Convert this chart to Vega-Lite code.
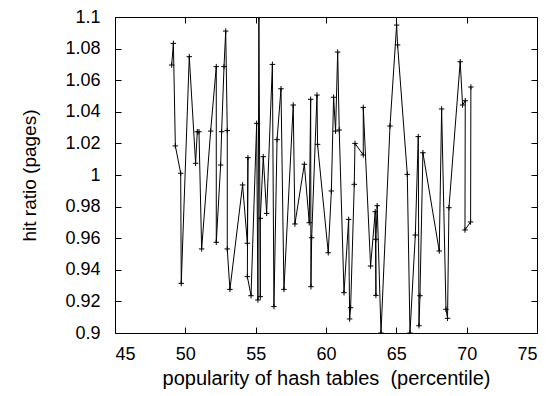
{
  "$schema": "https://vega.github.io/schema/vega-lite/v6.json",
  "width": 422,
  "height": 316,
  "autosize": {"type": "none"},
  "padding": {"left": 115, "top": 17, "right": 16, "bottom": 63},
  "background": "white",
  "config": {
    "font": "Liberation Sans",
    "view": {"stroke": "black", "strokeWidth": 1},
    "axis": {
      "grid": false,
      "domain": false,
      "tickColor": "black",
      "tickSize": -6,
      "labelFont": "Liberation Sans",
      "labelFontSize": 18,
      "labelColor": "black",
      "titleFont": "Liberation Sans",
      "titleFontSize": 19,
      "titleFontWeight": "normal",
      "titleColor": "black"
    }
  },
  "data": {"values": [
    {"i":1,"x":49.03,"y":1.0696},{"i":2,"x":49.15,"y":1.0833},{"i":3,"x":49.29,"y":1.0184},{"i":4,"x":49.67,"y":1.0011},{"i":5,"x":49.71,"y":0.9314},
    {"i":6,"x":50.28,"y":1.0749},{"i":7,"x":50.73,"y":1.0074},{"i":8,"x":50.85,"y":1.0274},{"i":9,"x":50.97,"y":1.0274},{"i":10,"x":51.16,"y":0.9532},
    {"i":11,"x":51.8,"y":1.0278},{"i":12,"x":52.2,"y":1.0686},{"i":13,"x":52.2,"y":0.9574},{"i":14,"x":52.51,"y":1.0063},{"i":15,"x":52.58,"y":1.0274},
    {"i":16,"x":52.75,"y":1.0686},{"i":17,"x":52.87,"y":1.0911},{"i":18,"x":52.98,"y":1.0281},{"i":19,"x":52.98,"y":0.9532},{"i":20,"x":53.17,"y":0.9276},
    {"i":21,"x":54.07,"y":0.9937},{"i":22,"x":54.41,"y":0.9568},{"i":23,"x":54.45,"y":1.011},{"i":24,"x":54.41,"y":0.9357},{"i":25,"x":54.67,"y":0.9236},
    {"i":26,"x":55.07,"y":1.0327},{"i":27,"x":55.16,"y":0.9209},{"i":28,"x":55.23,"y":1.1},{"i":29,"x":55.33,"y":0.923},{"i":30,"x":55.33,"y":0.9726},
    {"i":31,"x":55.54,"y":1.0116},{"i":32,"x":55.78,"y":0.9757},{"i":33,"x":56.19,"y":1.07},{"i":34,"x":56.3,"y":0.9167},{"i":35,"x":56.52,"y":1.0224},
    {"i":36,"x":56.8,"y":1.0546},{"i":37,"x":57.01,"y":0.9276},{"i":38,"x":57.67,"y":1.0443},{"i":39,"x":57.79,"y":0.969},{"i":40,"x":58.46,"y":1.0068},
    {"i":41,"x":58.81,"y":0.9698},{"i":42,"x":58.91,"y":1.0479},{"i":43,"x":58.93,"y":0.9293},{"i":44,"x":58.98,"y":0.9603},{"i":45,"x":59.36,"y":1.0506},
    {"i":46,"x":59.4,"y":1.0194},{"i":47,"x":60.16,"y":0.9508},{"i":48,"x":60.38,"y":0.9899},{"i":49,"x":60.54,"y":1.0492},{"i":50,"x":60.68,"y":1.0278},
    {"i":51,"x":60.83,"y":1.0778},{"i":52,"x":60.94,"y":1.0285},{"i":53,"x":61.28,"y":0.9255},{"i":54,"x":61.61,"y":0.9719},{"i":55,"x":61.68,"y":0.9089},
    {"i":56,"x":61.75,"y":0.916},{"i":57,"x":62.01,"y":0.9941},{"i":58,"x":62.06,"y":1.02},{"i":59,"x":62.65,"y":1.0127},{"i":60,"x":62.65,"y":1.0428},
    {"i":61,"x":63.17,"y":0.9424},{"i":62,"x":63.5,"y":0.9768},{"i":63,"x":63.55,"y":0.9238},{"i":64,"x":63.55,"y":0.9593},{"i":65,"x":63.64,"y":0.9806},
    {"i":66,"x":63.91,"y":0.9},{"i":67,"x":64.55,"y":1.031},{"i":68,"x":65.02,"y":1.0949},{"i":69,"x":65.09,"y":1.0823},{"i":70,"x":65.78,"y":1.0004},
    {"i":71,"x":65.97,"y":0.9},{"i":72,"x":66.35,"y":0.962},{"i":73,"x":66.56,"y":1.0243},{"i":74,"x":66.61,"y":0.9046},{"i":75,"x":66.68,"y":0.9236},
    {"i":76,"x":66.89,"y":1.0141},{"i":77,"x":68.05,"y":0.9519},{"i":78,"x":68.22,"y":1.0418},{"i":79,"x":68.53,"y":0.915},{"i":80,"x":68.64,"y":0.9093},
    {"i":81,"x":68.74,"y":0.9793},{"i":82,"x":69.54,"y":1.0717},{"i":83,"x":69.71,"y":1.0443},{"i":84,"x":69.9,"y":1.047},{"i":85,"x":69.88,"y":0.9652},
    {"i":86,"x":70.28,"y":0.9703},{"i":87,"x":70.3,"y":1.0557}
  ]},
  "layer": [
    {
      "mark": {"type": "line", "color": "black", "strokeWidth": 1, "clip": true},
      "encoding": {
        "x": {"field": "x", "type": "quantitative", "scale": {"domain": [45, 75], "nice": false, "zero": false},
              "axis": {"values": [45,50,55,60,65,70,75], "title": "popularity of hash tables \u00a0(percentile)", "labelPadding": 18, "titlePadding": 5, "titleFontSize": 20}},
        "y": {"field": "y", "type": "quantitative", "scale": {"domain": [0.9, 1.1], "nice": false, "zero": false},
              "axis": {"values": [0.9,0.92,0.94,0.96,0.98,1,1.02,1.04,1.06,1.08,1.1], "title": "hit ratio (pages)", "labelPadding": 21, "titlePadding": 25,
                       "labelExpr": "format(datum.value, '.2~f')"}},
        "order": {"field": "i", "type": "quantitative"}
      }
    },
    {
      "mark": {"type": "point", "shape": "M-1,0H1M0,-1V1", "filled": false, "color": "black", "strokeWidth": 1, "size": 30, "opacity": 1, "clip": true},
      "encoding": {
        "x": {"field": "x", "type": "quantitative", "axis": {"orient": "top", "values": [45,50,55,60,65,70,75], "labels": false, "title": null}},
        "y": {"field": "y", "type": "quantitative", "axis": {"orient": "right", "values": [0.9,0.92,0.94,0.96,0.98,1,1.02,1.04,1.06,1.08,1.1], "labels": false, "title": null}}
      }
    }
  ],
  "resolve": {"axis": {"x": "independent", "y": "independent"}}
}
